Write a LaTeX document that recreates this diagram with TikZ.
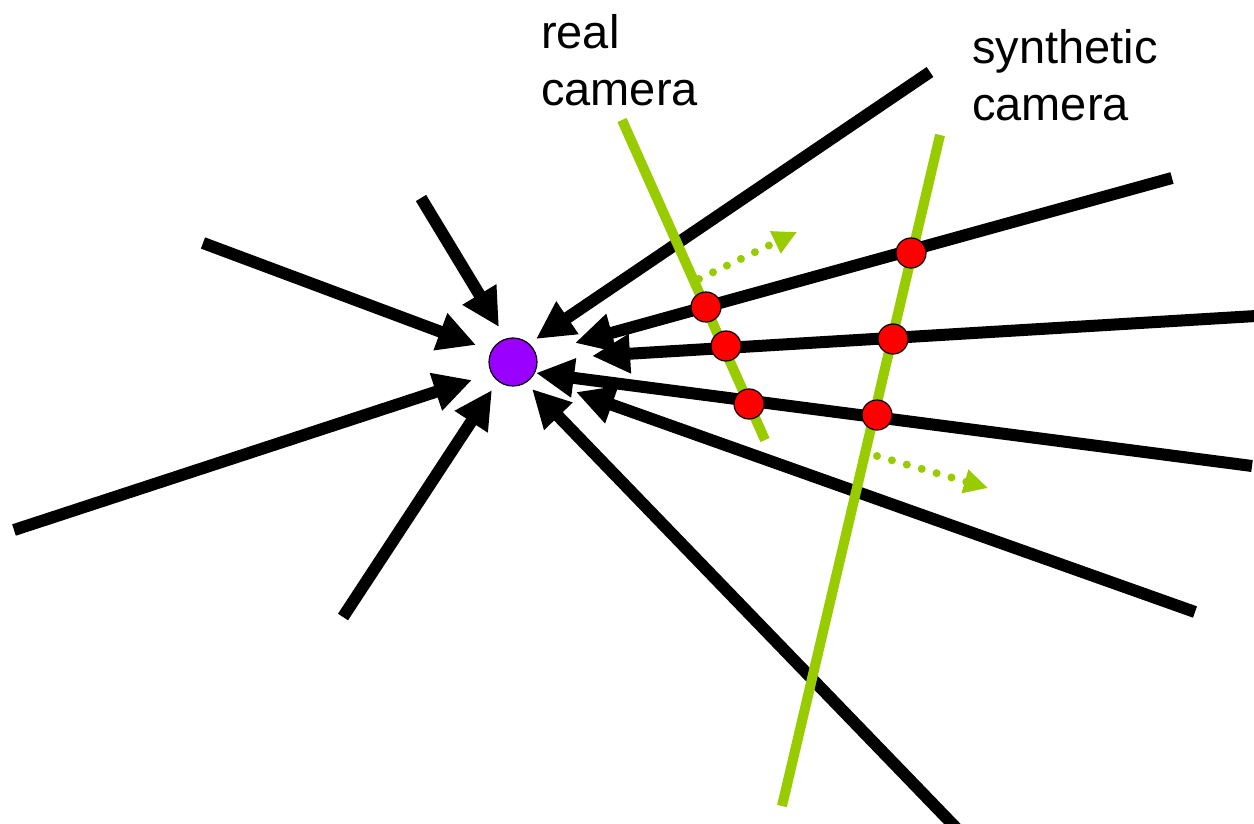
\documentclass[tikz,border=0pt]{standalone}
\usepackage{fontspec}
\setmainfont{Liberation Sans}
\usetikzlibrary{arrows.meta}
\definecolor{camgreen}{RGB}{153,204,0}
\definecolor{ptpurple}{RGB}{153,0,255}
\tikzset{
  ray/.style={line width=12pt, black, -{Triangle[length=38pt,width=37pt]}},
  cam/.style={line width=10pt, camgreen},
  dotarrow/.style={camgreen, line width=8pt, line cap=round, dash pattern=on 0pt off 15.5pt, -{Triangle[length=24pt,width=23pt]}},
  sample/.style={circle, fill=red, draw=black, line width=1.2pt, minimum size=30pt, inner sep=0pt},
  point/.style={circle, fill=ptpurple, draw=black, line width=1.2pt, minimum size=48pt, inner sep=0pt},
  lbl/.style={font=\fontsize{47}{57}\selectfont, align=left, inner sep=0pt, anchor=base west}
}
\begin{document}
\begin{tikzpicture}[x=1pt,y=-1pt]
\clip (0,0) rectangle (1254,824);
\fill[white] (0,0) rectangle (1254,824);
% far ends of rays
\coordinate (a0) at (203,243);   \coordinate (a1) at (476,345);
\coordinate (b0) at (421,198);   \coordinate (b1) at (499,327);
\coordinate (c0) at (14,530);    \coordinate (c1) at (472,380);
\coordinate (d0) at (343,617);   \coordinate (d1) at (492,390);
\coordinate (e0) at (930,72);    \coordinate (e1) at (536,339);
\coordinate (f0) at (1172,178);  \coordinate (f1) at (575,343);
\coordinate (g0) at (1256,316);  \coordinate (g1) at (592,356);
\coordinate (h0) at (1252,466);  \coordinate (h1) at (536,373);
\coordinate (i0) at (1195,612);  \coordinate (i1) at (576,392);
\coordinate (j0) at (962,834);   \coordinate (j1) at (532,389);
\foreach \r in {a,b,c,d,e,f,g,h,i,j} {\draw[ray] (\r0) -- (\r1);}
% cameras
\coordinate (rc0) at (622,120);  \coordinate (rc1) at (765,440);
\coordinate (sc0) at (940,135);  \coordinate (sc1) at (782,806);
\draw[cam] (rc0) -- (rc1);
\draw[cam] (sc0) -- (sc1);
% motion arrows
\coordinate (m0) at (699,279);  \coordinate (m1) at (797,232);
\coordinate (n0) at (877,456);  \coordinate (n1) at (988,488);
\draw[dotarrow] (m0) -- (m1);
\draw[dotarrow] (n0) -- (n1);
% samples
\node[sample] (r1) at (706,307) {};
\node[sample] (r2) at (726,346) {};
\node[sample] (r3) at (749,404) {};
\node[sample] (s1) at (911,253) {};
\node[sample] (s2) at (893,339) {};
\node[sample] (s3) at (877,415) {};
% point
\node[point] (P) at (513,362) {};
% labels
\node[lbl] (real) at (541,106) {real\\camera};
\node[lbl] (syn) at (972,121) {synthetic\\camera};
\end{tikzpicture}
\end{document}
